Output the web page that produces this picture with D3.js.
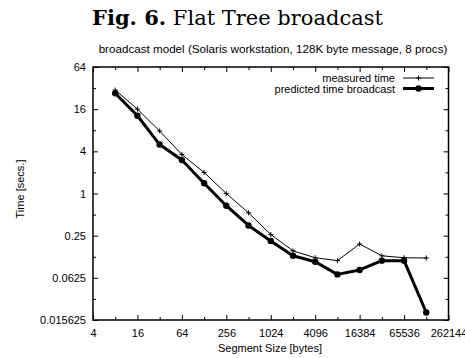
<!DOCTYPE html>
<html>
<head>
<meta charset="utf-8">
<script src="https://cdn.jsdelivr.net/npm/d3@7"></script>
<style>
  body { margin: 0; background: #fff; }
  svg { display: block; }
  text { font-family: "Liberation Sans", Arial, sans-serif; }
</style>
</head>
<body>
<div id="chart"></div>
<script>
// segment sizes (bytes) and times (secs)
const segmentSizes = [8, 16, 32, 64, 128, 256, 512, 1024, 2048, 4096, 8192, 16384, 32768, 65536, 131072];
const measuredTime = [30, 16, 7.8, 3.6, 2.0, 1.0, 0.53, 0.26, 0.152, 0.121, 0.11, 0.19, 0.129, 0.121, 0.12];
const predictedTime = [27, 12.9, 5.0, 3.0, 1.4, 0.67, 0.35, 0.21, 0.129, 0.106, 0.07, 0.081, 0.11, 0.11, 0.02];

const xMajorTicks = [4, 16, 64, 256, 1024, 4096, 16384, 65536, 262144];
const xMinorTicks = [8, 32, 128, 512, 2048, 8192, 32768, 131072];
const yMajorTicks = [64, 16, 4, 1, 0.25, 0.0625, 0.015625];
const yMinorTicks = [32, 8, 2, 0.5, 0.125, 0.03125];

const seriesNames = ['measured time', 'predicted time broadcast'];

const width = 465;
const height = 358;
const plot = { left: 93, right: 448.5, top: 67, bottom: 320 };

const svg = d3.select('#chart')
  .append('svg')
  .attr('width', width)
  .attr('height', height);

const x = d3.scaleLog().base(2).domain([4, 262144]).range([plot.left, plot.right]);
const y = d3.scaleLog().base(2).domain([0.015625, 64]).range([plot.bottom, plot.top]);

// scale a text's font so it spans the wanted width
function fitWidth(sel, size, wanted) {
  const len = sel.node().getComputedTextLength();
  sel.style('font-size', (size * wanted / len).toFixed(2) + 'px');
}

// titles
const title = svg.append('text')
  .attr('x', 237.5)
  .attr('y', 25)
  .attr('text-anchor', 'middle')
  .style('font-family', '"DejaVu Serif", "Liberation Serif", serif')
  .style('font-size', '20px');
title.append('tspan').style('font-weight', 'bold').text('Fig. 6.');
title.append('tspan').text(' Flat Tree broadcast');
fitWidth(title, 20, 291);

const subtitle = svg.append('text')
  .attr('x', 273)
  .attr('y', 53)
  .attr('text-anchor', 'middle')
  .style('font-size', '11px')
  .text('broadcast model (Solaris workstation, 128K byte message, 8 procs)');
fitWidth(subtitle, 11, 349);

// axes: bottom/left carry labels, top/right just mirror ticks
const fmt = (d) => String(d);
function addAxis(axisFn, scale, ticks, size, transform, withLabels) {
  const g = svg.append('g')
    .attr('transform', transform)
    .call(axisFn(scale).tickValues(ticks).tickSizeInner(size).tickSizeOuter(0)
      .tickFormat(withLabels ? fmt : ''));
  g.select('.domain').remove();
  g.selectAll('.tick line').attr('stroke', '#000').attr('stroke-width', 1);
  g.selectAll('.tick text').style('font-size', '11px').attr('fill', '#000')
    .style('font-family', '"Liberation Sans", Arial, sans-serif');
  return g;
}

addAxis(d3.axisBottom, x, xMajorTicks, -5, `translate(0,${plot.bottom})`, true)
  .selectAll('.tick text').attr('y', 9);
addAxis(d3.axisBottom, x, xMinorTicks, -3, `translate(0,${plot.bottom})`, false);
addAxis(d3.axisTop, x, xMajorTicks, -5, `translate(0,${plot.top})`, false);
addAxis(d3.axisTop, x, xMinorTicks, -3, `translate(0,${plot.top})`, false);

addAxis(d3.axisLeft, y, yMajorTicks, -5, `translate(${plot.left},0)`, true)
  .selectAll('.tick text').attr('x', -7);
addAxis(d3.axisLeft, y, yMinorTicks, -3, `translate(${plot.left},0)`, false);
addAxis(d3.axisRight, y, yMajorTicks, -5, `translate(${plot.right},0)`, false);
addAxis(d3.axisRight, y, yMinorTicks, -3, `translate(${plot.right},0)`, false);

// frame
svg.append('rect')
  .attr('x', plot.left)
  .attr('y', plot.top)
  .attr('width', plot.right - plot.left)
  .attr('height', plot.bottom - plot.top)
  .attr('fill', 'none')
  .attr('stroke', '#000')
  .attr('stroke-width', 1.5);

// axis titles
svg.append('text')
  .attr('x', 270)
  .attr('y', 352)
  .attr('text-anchor', 'middle')
  .style('font-size', '11px')
  .text('Segment Size [bytes]');

svg.append('text')
  .attr('transform', 'translate(24,189) rotate(-90)')
  .attr('text-anchor', 'middle')
  .style('font-size', '11px')
  .text('Time [secs.]');

// series
const measured = segmentSizes.map((s, i) => ({ s, v: measuredTime[i] }));
const predicted = segmentSizes.map((s, i) => ({ s, v: predictedTime[i] }));
const line = d3.line().x((d) => x(d.s)).y((d) => y(d.v));

svg.append('path')
  .datum(measured)
  .attr('d', line)
  .attr('fill', 'none')
  .attr('stroke', '#000')
  .attr('stroke-width', 1);

function plus(g, cx, cy) {
  g.append('path')
    .attr('d', `M${cx - 2.5},${cy}h5M${cx},${cy - 2.5}v5`)
    .attr('stroke', '#000')
    .attr('stroke-width', 1);
}
const mg = svg.append('g');
measured.forEach((d) => plus(mg, x(d.s), y(d.v)));

svg.append('path')
  .datum(predicted)
  .attr('d', line)
  .attr('fill', 'none')
  .attr('stroke', '#000')
  .attr('stroke-width', 3)
  .attr('stroke-linejoin', 'round');

svg.append('g')
  .selectAll('circle')
  .data(predicted)
  .join('circle')
  .attr('cx', (d) => x(d.s))
  .attr('cy', (d) => y(d.v))
  .attr('r', 3.2)
  .attr('fill', '#000');

// legend
const legendY = [78, 88.5];
seriesNames.forEach((name, i) => {
  svg.append('text')
    .attr('x', 395)
    .attr('y', legendY[i] + 4)
    .attr('text-anchor', 'end')
    .style('font-size', '11px')
    .text(name);
  svg.append('line')
    .attr('x1', 403).attr('x2', 434)
    .attr('y1', legendY[i]).attr('y2', legendY[i])
    .attr('stroke', '#000')
    .attr('stroke-width', i === 0 ? 1 : 3);
  if (i === 0) plus(svg, 418.5, legendY[i]);
  else svg.append('circle').attr('cx', 418.5).attr('cy', legendY[i]).attr('r', 3.2).attr('fill', '#000');
});
</script>
</body>
</html>
